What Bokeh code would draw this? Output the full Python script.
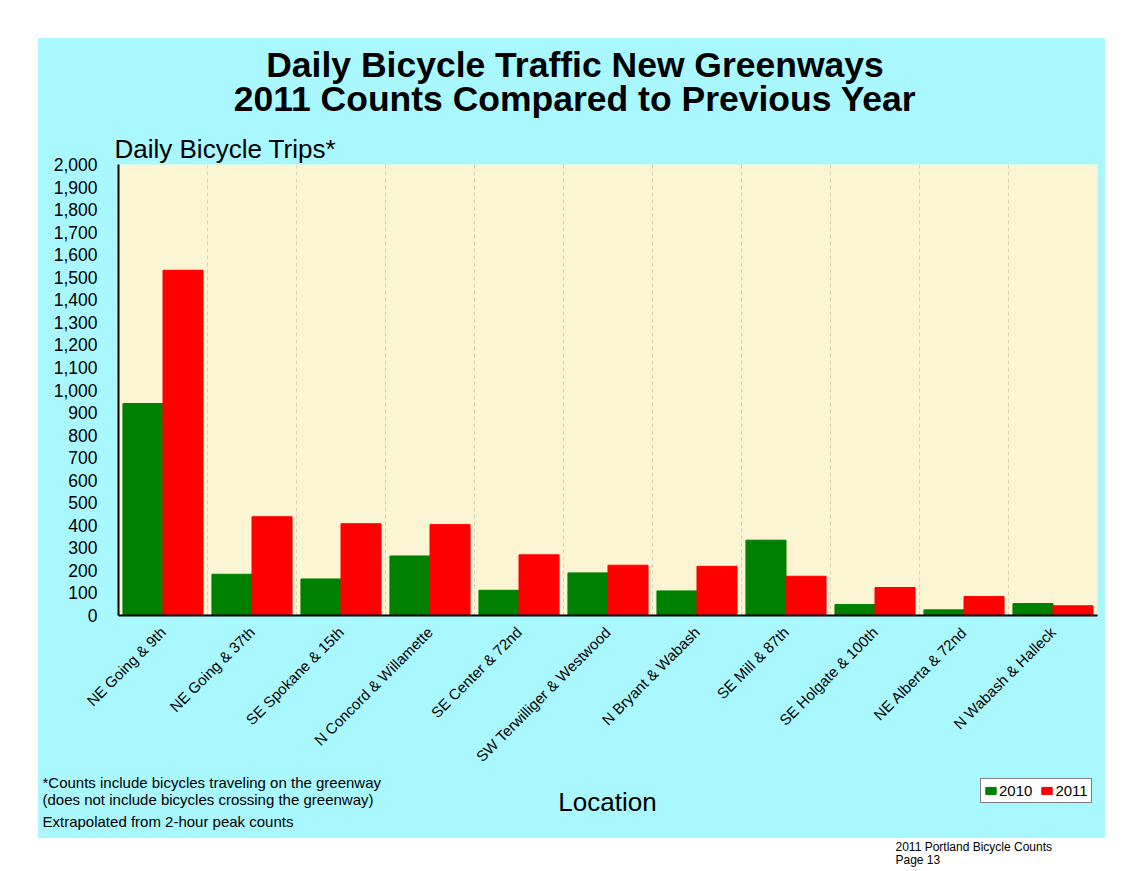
import math
from bokeh.plotting import figure
from bokeh.layouts import column, row
from bokeh.models import (FactorRange, Range1d, FixedTicker, NumeralTickFormatter,
                          Span, Label, ColumnDataSource, Spacer)
from bokeh.transform import dodge
from bokeh.embed import file_html
from bokeh.resources import INLINE

# ---------------- data ----------------
locations = ["NE Going & 9th", "NE Going & 37th", "SE Spokane & 15th",
             "N Concord & Willamette", "SE Center & 72nd",
             "SW Terwilliger & Westwood", "N Bryant & Wabash", "SE Mill & 87th",
             "SE Holgate & 100th", "NE Alberta & 72nd", "N Wabash & Halleck"]
counts_2010 = [940, 183, 162, 264, 112, 189, 109, 334, 49, 25, 53]
counts_2011 = [1531, 438, 407, 403, 269, 223, 218, 174, 124, 84, 43]
y_ticks = list(range(0, 2001, 100))
series_names = ["2010", "2011"]

title_lines = ["Daily Bicycle Traffic New Greenways",
               "2011 Counts Compared to Previous Year"]
y_title = "Daily Bicycle Trips*"
x_title = "Location"
notes = ["*Counts include bicycles traveling on the greenway",
         "(does not include bicycles crossing the greenway)",
         "Extrapolated from 2-hour peak counts"]
footer = ["2011 Portland Bicycle Counts", "Page 13"]

# ---------------- style ----------------
FONT = "Liberation Sans"
CYAN = "#AAF8FF"
CREAM = "#FBF5D4"
GREEN = "#008000"
RED = "#FF0000"

PANEL_W = 1067
HEAD_H = 86
MAIN_H = 649
FOOT_H = 65

src = ColumnDataSource(dict(loc=locations, idx=list(range(len(locations))),
                            v2010=counts_2010, v2011=counts_2011))


def text_fig(w, h, bg):
    f = figure(width=w, height=h, x_range=Range1d(0, w), y_range=Range1d(h, 0),
               x_axis_location=None, y_axis_location=None, title_location=None,
               output_backend="svg", toolbar_location=None, min_border=0,
               border_fill_color=bg, background_fill_color=bg,
               outline_line_color=None, frame_align=False)
    f.grid.visible = False
    return f


def add_text(f, x, baseline, text, size_px, align="left", style="normal"):
    # empirical shift so that the glyph baseline lands at `baseline`
    y = baseline - 0.38 * size_px
    f.add_layout(Label(x=x, y=y, text=text, text_font=FONT,
                       text_font_size=f"{size_px}px",
                       text_font_style=style, text_color="black",
                       text_align=align, text_baseline="alphabetic"))


# ---------------- head (titles) ----------------
head = text_fig(PANEL_W, HEAD_H, CYAN)
add_text(head, 536.5, 39.7, title_lines[0], 35.5, "center", "bold")
add_text(head, 536.5, 73.7, title_lines[1], 35.5, "center", "bold")

# ---------------- main chart ----------------
p = figure(width=PANEL_W, height=MAIN_H,
           x_range=FactorRange(factors=locations, range_padding=0),
           y_range=Range1d(0, 2000),
           output_backend="svg", toolbar_location=None,
           min_border_left=80, min_border_top=40,
           min_border_right=8, min_border_bottom=157,
           border_fill_color=CYAN, background_fill_color=CREAM,
           outline_line_color=None, frame_align=False)
p.title.text = y_title
p.title.align = "left"
p.title.offset = -4
p.title.standoff = 2
p.title.text_font = FONT
p.title.text_font_size = "26px"
p.title.text_font_style = "normal"
p.title.text_color = "black"

p.xgrid.visible = False
p.ygrid.visible = False

for i in range(1, len(locations)):
    p.add_layout(Span(location=i, dimension="height", line_color="#DCD3B4",
                      line_dash="4 3", line_width=1, level="underlay"))

p.vbar(x=dodge("loc", -0.225, range=p.x_range), top="v2010", width=0.45,
       source=src, fill_color=GREEN, line_color=GREEN)
p.vbar(x=dodge("loc", 0.225, range=p.x_range), top="v2011", width=0.45,
       source=src, fill_color=RED, line_color=RED)

yax = p.yaxis[0]
yax.ticker = FixedTicker(ticks=y_ticks)
yax.formatter = NumeralTickFormatter(format="0,0")
yax.axis_line_color = "black"
yax.axis_line_width = 2
yax.major_tick_line_color = None
yax.minor_tick_line_color = None
yax.major_tick_out = 0
yax.major_tick_in = 0
yax.major_label_standoff = 21
yax.major_label_text_font = FONT
yax.major_label_text_font_size = "17.5px"
yax.major_label_text_color = "black"

xax = p.xaxis[0]
xax.axis_line_color = "black"
xax.axis_line_width = 2
xax.major_tick_line_color = None
xax.minor_tick_line_color = None
xax.major_tick_out = 0
xax.major_tick_in = 0
xax.major_label_orientation = math.pi / 4
xax.major_label_standoff = 14
xax.major_label_text_font = FONT
xax.major_label_text_font_size = "15px"
xax.major_label_text_color = "black"

# ---------------- foot (notes, axis title, legend) ----------------
foot = text_fig(PANEL_W, FOOT_H, CYAN)
add_text(foot, 4, 14.7, notes[0], 15)
add_text(foot, 4, 32, notes[1], 15)
add_text(foot, 4, 53.7, notes[2], 15)
add_text(foot, 569, 38, x_title, 26, "center")

foot.vbar(x="idx", top="v2010", width=0.45, source=src, fill_color=GREEN,
          line_color=GREEN, visible=False, legend_label=series_names[0])
foot.vbar(x="idx", top="v2011", width=0.45, source=src, fill_color=RED,
          line_color=RED, visible=False, legend_label=series_names[1])
lg = foot.legend[0]
lg.location = (942, 35)
lg.orientation = "horizontal"
lg.background_fill_color = "white"
lg.background_fill_alpha = 1.0
lg.border_line_color = "black"
lg.border_line_width = 1
lg.label_text_font = FONT
lg.label_text_font_size = "15px"
lg.label_text_color = "black"
lg.glyph_width = 13
lg.glyph_height = 9
lg.label_height = 15
lg.label_standoff = 2
lg.padding = 3
lg.spacing = 8
lg.margin = 0
lg.inactive_fill_alpha = 0

# ---------------- page footer ----------------
pfoot = text_fig(250, 33, "white")
add_text(pfoot, 8, 13.3, footer[0], 12)
add_text(pfoot, 8, 26, footer[1], 12)

panel = column(head, p, foot, styles={"background-color": CYAN})

layout = column(
    Spacer(width=1137, height=38),
    row(Spacer(width=38, height=800), panel),
    row(Spacer(width=887, height=33), pfoot),
)

open("out.html", "w").write(file_html(layout, INLINE))
